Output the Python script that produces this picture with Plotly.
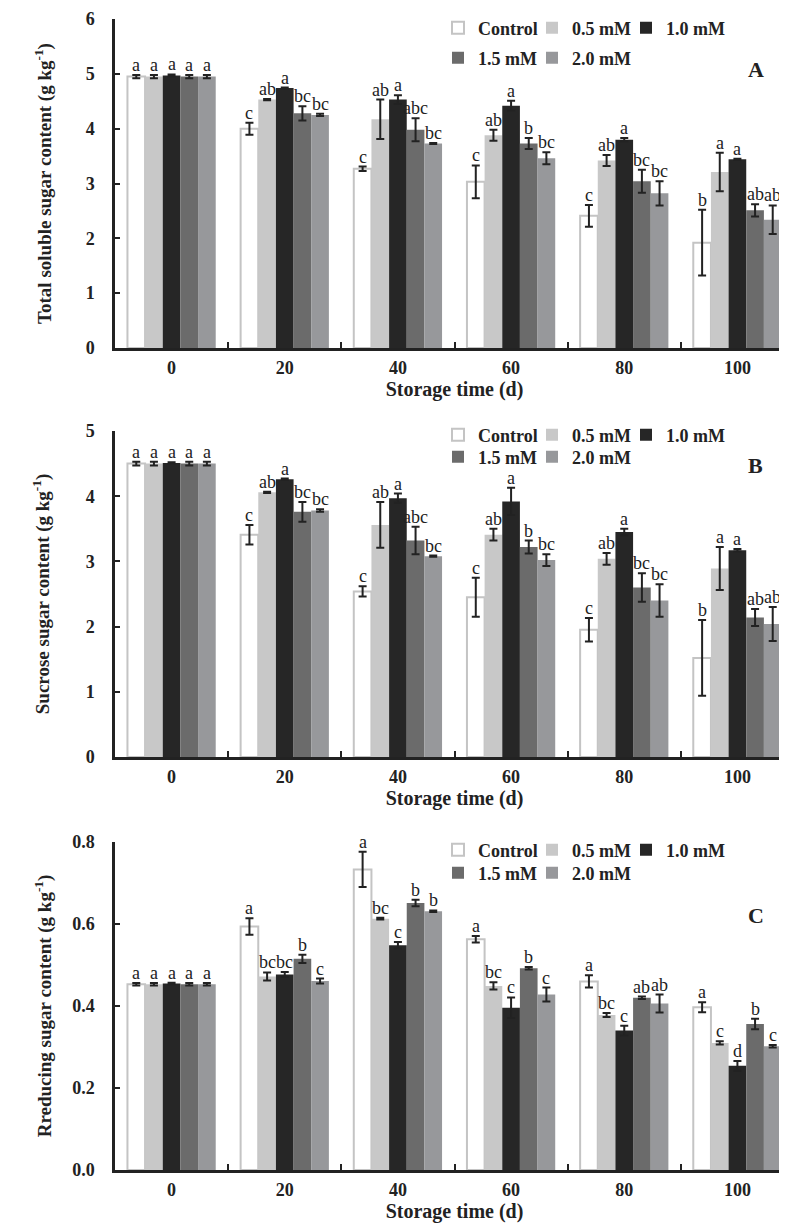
import plotly.graph_objects as go

# ---------------- data ----------------
days = ["0", "20", "40", "60", "80", "100"]
series_names = ["Control", "0.5 mM", "1.0 mM", "1.5 mM", "2.0 mM"]

# Panel A: total soluble sugar (g kg-1)
A_control = [4.95, 4.00, 3.27, 3.03, 2.41, 1.92]
A_05 = [4.95, 4.53, 4.17, 3.88, 3.42, 3.21]
A_10 = [4.97, 4.74, 4.53, 4.42, 3.80, 3.44]
A_15 = [4.95, 4.28, 3.98, 3.73, 3.04, 2.51]
A_20 = [4.95, 4.25, 3.73, 3.46, 2.82, 2.34]
A_control_err = [0.03, 0.11, 0.04, 0.30, 0.20, 0.60]
A_05_err = [0.03, 0.01, 0.36, 0.10, 0.10, 0.35]
A_10_err = [0.02, 0.01, 0.08, 0.09, 0.03, 0.01]
A_15_err = [0.03, 0.13, 0.21, 0.10, 0.21, 0.11]
A_20_err = [0.03, 0.02, 0.01, 0.11, 0.22, 0.26]
A_letters = [["a", "c", "c", "c", "c", "b"],
             ["a", "ab", "ab", "ab", "ab", "a"],
             ["a", "a", "a", "a", "a", "a"],
             ["a", "bc", "abc", "b", "bc", "ab"],
             ["a", "bc", "bc", "bc", "bc", "ab"]]

# Panel B: sucrose (g kg-1)
B_control = [4.50, 3.41, 2.54, 2.45, 1.95, 1.52]
B_05 = [4.50, 4.06, 3.56, 3.41, 3.04, 2.89]
B_10 = [4.51, 4.26, 3.97, 3.92, 3.45, 3.17]
B_15 = [4.50, 3.76, 3.32, 3.22, 2.60, 2.14]
B_20 = [4.50, 3.78, 3.08, 3.02, 2.40, 2.04]
B_control_err = [0.03, 0.15, 0.08, 0.30, 0.18, 0.58]
B_05_err = [0.03, 0.01, 0.35, 0.09, 0.09, 0.33]
B_10_err = [0.01, 0.01, 0.07, 0.21, 0.05, 0.02]
B_15_err = [0.03, 0.15, 0.21, 0.10, 0.22, 0.13]
B_20_err = [0.03, 0.02, 0.01, 0.09, 0.25, 0.26]
B_letters = [["a", "c", "c", "c", "c", "b"],
             ["a", "ab", "ab", "ab", "ab", "a"],
             ["a", "a", "a", "a", "a", "a"],
             ["a", "bc", "abc", "b", "bc", "ab"],
             ["a", "bc", "bc", "bc", "bc", "ab"]]

# Panel C: reducing sugar (g kg-1)
C_control = [0.453, 0.594, 0.733, 0.563, 0.460, 0.397]
C_05 = [0.453, 0.472, 0.613, 0.449, 0.378, 0.310]
C_10 = [0.455, 0.477, 0.548, 0.396, 0.340, 0.254]
C_15 = [0.453, 0.515, 0.651, 0.492, 0.420, 0.356]
C_20 = [0.453, 0.461, 0.631, 0.428, 0.406, 0.302]
C_control_err = [0.003, 0.020, 0.043, 0.008, 0.015, 0.012]
C_05_err = [0.003, 0.010, 0.002, 0.009, 0.005, 0.004]
C_10_err = [0.002, 0.006, 0.008, 0.025, 0.012, 0.012]
C_15_err = [0.003, 0.010, 0.008, 0.003, 0.003, 0.013]
C_20_err = [0.003, 0.006, 0.002, 0.017, 0.022, 0.003]
C_letters = [["a", "a", "a", "a", "a", "a"],
             ["a", "bc", "bc", "bc", "bc", "c"],
             ["a", "bc", "c", "c", "c", "d"],
             ["a", "b", "b", "b", "ab", "b"],
             ["a", "c", "b", "c", "ab", "c"]]

y_titles = ["Total soluble sugar content (g kg<sup>-1</sup>)",
            "Sucrose sugar content (g kg<sup>-1</sup>)",
            "Rreducing sugar content (g kg<sup>-1</sup>)"]
x_title = "Storage time (d)"
panel_tags = ["A", "B", "C"]

# ---------------- style ----------------
SERIF = "Liberation Serif, Times New Roman, serif"
INK = "#222222"
colors = ["#ffffff", "#c8c8c8", "#262626", "#6b6b6b", "#97989b"]
W, H = 787, 1225
ML, MR, MT, MB = 107, 1, 11, 63
plot_h = H - MT - MB
plot_w = W - ML - MR


def py2paper(py):
    return (H - MB - py) / plot_h


def px2paper(px):
    return (px - ML) / plot_w


domains = [[py2paper(340), py2paper(11)],
           [py2paper(749), py2paper(423)],
           [py2paper(1162), py2paper(834)]]
yranges = [[0, 6], [0, 5], [0, 0.8]]
ydticks = [1, 1, 0.2]
yfmts = ["d", "d", ".1f"]
title_standoffs = [30, 32, 16]
legend_rows = [(20, 50), (427, 449), (842, 865)]
# legend entry positions (left px, row index) for each series
legend_slots = [(430, 0), (524, 0), (618, 0), (430, 1), (524, 1)]
tag_y = [0.845, 0.893, 0.777]

panels = [
    ([A_control, A_05, A_10, A_15, A_20],
     [A_control_err, A_05_err, A_10_err, A_15_err, A_20_err], A_letters),
    ([B_control, B_05, B_10, B_15, B_20],
     [B_control_err, B_05_err, B_10_err, B_15_err, B_20_err], B_letters),
    ([C_control, C_05, C_10, C_15, C_20],
     [C_control_err, C_05_err, C_10_err, C_15_err, C_20_err], C_letters),
]

BARGAP = 0.22
bw = (1 - BARGAP) / 5

fig = go.Figure()
annotations = []
layout = {}

for p, (vals, errs, letters) in enumerate(panels):
    sfx = "" if p == 0 else str(p + 1)
    xa, ya = "x" + sfx, "y" + sfx
    for i in range(5):
        n = p * 5 + i + 1
        leg = "legend" if n == 1 else f"legend{n}"
        fig.add_trace(go.Bar(
            x=days, y=vals[i], name=series_names[i],
            xaxis=xa, yaxis=ya, legend=leg,
            marker=dict(color=colors[i],
                        line=dict(color="#c4c4c4" if i == 0 else colors[i],
                                  width=2 if i == 0 else 0)),
            error_y=dict(type="data", array=errs[i], visible=True,
                         color=INK, thickness=2, width=4),
        ))
        lx, row = legend_slots[i]
        layout[leg] = dict(
            visible=True,
            orientation="h", x=px2paper(lx), xanchor="left",
            y=py2paper(legend_rows[p][row]), yanchor="middle",
            bgcolor="rgba(0,0,0,0)", borderwidth=0, itemwidth=30,
            font=dict(family=SERIF, size=18, color=INK, weight="bold"),
        )
        for g in range(len(days)):
            annotations.append(dict(
                x=g + (i - 2) * bw, y=vals[i][g] + errs[i][g],
                xref=xa, yref=ya, text=letters[i][g], showarrow=False,
                yanchor="bottom", xanchor="center", yshift=-2,
                font=dict(family=SERIF, size=18, color=INK)))
    annotations.append(dict(
        x=0.944, y=tag_y[p], xref=xa + " domain", yref=ya + " domain",
        text=panel_tags[p], showarrow=False, xanchor="center", yanchor="middle",
        font=dict(family=SERIF, size=22, color=INK, weight="bold")))

    layout["xaxis" + sfx] = dict(
        type="category", range=[-0.5, 5.5], anchor=ya,
        domain=[0, 1], showline=True, linecolor=INK, linewidth=2.5,
        ticks="inside", tickson="boundaries", ticklen=6, tickwidth=2,
        tickcolor=INK, showgrid=False, zeroline=False,
        tickfont=dict(family=SERIF, size=18, color=INK, weight="bold"),
        ticklabelstandoff=2,
        title=dict(text=x_title, standoff=0,
                   font=dict(family=SERIF, size=20, color=INK, weight="bold")),
    )
    layout["yaxis" + sfx] = dict(
        range=yranges[p], dtick=ydticks[p], tickformat=yfmts[p], anchor=xa,
        domain=domains[p], showline=True, linecolor=INK, linewidth=2.5,
        ticks="inside", ticklen=5, tickwidth=2, tickcolor=INK,
        showgrid=False, zeroline=False,
        tickfont=dict(family=SERIF, size=18, color=INK, weight="bold"),
        ticklabelstandoff=14,
        title=dict(text=y_titles[p], standoff=title_standoffs[p],
                   font=dict(family=SERIF, size=19, color=INK, weight="bold")),
    )

fig.update_layout(
    width=W, height=H, showlegend=True,
    margin=dict(l=ML, r=MR, t=MT, b=MB, autoexpand=False),
    barmode="group", bargap=BARGAP, bargroupgap=0,
    plot_bgcolor="white", paper_bgcolor="white",
    annotations=annotations,
    **layout,
)

fig.write_html("out.html")
